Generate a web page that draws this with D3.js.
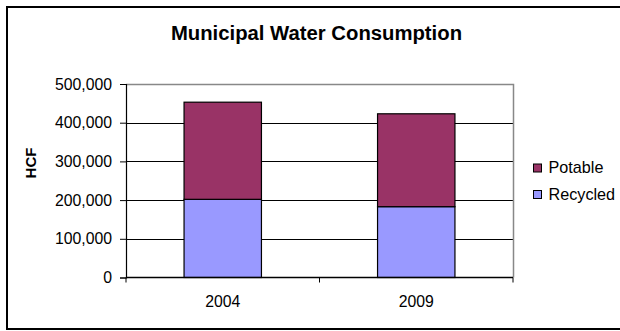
<!DOCTYPE html>
<html>
<head>
<meta charset="utf-8">
<script src="https://cdn.jsdelivr.net/npm/d3@7"></script>
<style>
  html, body { margin: 0; padding: 0; background: #fff; }
  svg { display: block; font-family: "Liberation Sans", Arial, sans-serif; }
</style>
</head>
<body>
<svg id="chart" width="620" height="331"></svg>
<script>
// Annual municipal water use, in hundred cubic feet (HCF)
const years = ["2004", "2009"];
const recycled = [202000, 183000];
const potable = [251000, 240000];
const seriesNames = ["Recycled", "Potable"];
const seriesColors = ["#9999FF", "#993366"];
const yTicks = [0, 100000, 200000, 300000, 400000, 500000];

const svg = d3.select("#chart");
const W = 620, H = 331;

// Outer chart frame
svg.append("rect")
  .attr("x", 7).attr("y", 7)
  .attr("width", W + 4).attr("height", 322)
  .attr("fill", "#fff").attr("stroke", "#000").attr("stroke-width", 2);

const plot = { left: 126, right: 513, top: 84, bottom: 277.5 };

const x = d3.scaleBand().domain(years).range([plot.left, plot.right]).paddingInner(0.6).paddingOuter(0.3);
const y = d3.scaleLinear().domain([0, 500000]).range([plot.bottom, plot.top]);

// Title
svg.append("text")
  .attr("x", 316.5).attr("y", 40)
  .attr("text-anchor", "middle")
  .attr("font-weight", "bold").attr("font-size", 20.3)
  .attr("fill", "#000")
  .text("Municipal Water Consumption");

// Gridlines
svg.append("g").selectAll("line")
  .data(yTicks.filter(t => t > 0 && t < 500000))
  .join("line")
  .attr("x1", plot.left).attr("x2", plot.right)
  .attr("y1", d => Math.round(y(d)) + 0.5).attr("y2", d => Math.round(y(d)) + 0.5)
  .attr("stroke", "#000").attr("stroke-width", 1);

// Plot area border (top and right, gray)
svg.append("path")
  .attr("d", `M${plot.left},${plot.top + 0.5}H${plot.right + 0.5}V${plot.bottom}`)
  .attr("fill", "none").attr("stroke", "#888").attr("stroke-width", 1.5);

// Stacked bars
const rows = years.map((yr, i) => ({ year: yr, Recycled: recycled[i], Potable: potable[i] }));
const stack = d3.stack().keys(seriesNames)(rows);

svg.append("g").selectAll("g")
  .data(stack)
  .join("g")
  .attr("fill", (d, i) => seriesColors[i])
  .selectAll("rect")
  .data(d => d)
  .join("rect")
  .attr("x", d => x(d.data.year))
  .attr("width", x.bandwidth())
  .attr("y", d => y(d[1]))
  .attr("height", d => y(d[0]) - y(d[1]))
  .attr("stroke", "#000").attr("stroke-width", 1.2);

// Y axis
const yAxis = d3.axisLeft(y).tickValues(yTicks).tickSize(6).tickPadding(8)
  .tickFormat(d3.format(","));
const gy = svg.append("g").attr("transform", `translate(${plot.left},0)`).call(yAxis);
gy.select(".domain").attr("stroke", "#000").attr("stroke-width", 1.2);
gy.selectAll(".tick line").attr("stroke", "#000");
gy.selectAll(".tick text")
  .attr("font-size", 15.8).attr("fill", "#000")
  .attr("font-family", "Liberation Sans, Arial, sans-serif");

// X axis with tick marks at category boundaries
const gx = svg.append("g").attr("transform", `translate(0,${plot.bottom})`);
gx.append("line")
  .attr("x1", plot.left).attr("x2", plot.right)
  .attr("stroke", "#000").attr("stroke-width", 1.5);
const step = (plot.right - plot.left) / years.length;
gx.selectAll("line.tk")
  .data(d3.range(years.length + 1))
  .join("line").attr("class", "tk")
  .attr("x1", i => plot.left + i * step).attr("x2", i => plot.left + i * step)
  .attr("y1", 0).attr("y2", 5)
  .attr("stroke", "#000");
gx.selectAll("text")
  .data(years)
  .join("text")
  .attr("x", d => x(d) + x.bandwidth() / 2)
  .attr("y", 29)
  .attr("text-anchor", "middle")
  .attr("font-size", 15.8).attr("fill", "#000")
  .text(d => d);

// Y axis title
svg.append("text")
  .attr("transform", "translate(36,163) rotate(-90)")
  .attr("text-anchor", "middle")
  .attr("font-weight", "bold").attr("font-size", 15)
  .attr("fill", "#000")
  .text("HCF");

// Legend (Potable above Recycled)
const legendItems = [
  { name: "Potable", color: seriesColors[1] },
  { name: "Recycled", color: seriesColors[0] }
];
const lg = svg.append("g").selectAll("g")
  .data(legendItems)
  .join("g")
  .attr("transform", (d, i) => `translate(533.5,${164 + i * 26.5})`);
lg.append("rect")
  .attr("width", 8).attr("height", 8)
  .attr("fill", d => d.color)
  .attr("stroke", "#000").attr("stroke-width", 1);
lg.append("text")
  .attr("x", 15).attr("y", 9)
  .attr("font-size", 16.2).attr("fill", "#000")
  .text(d => d.name);
</script>
</body>
</html>
